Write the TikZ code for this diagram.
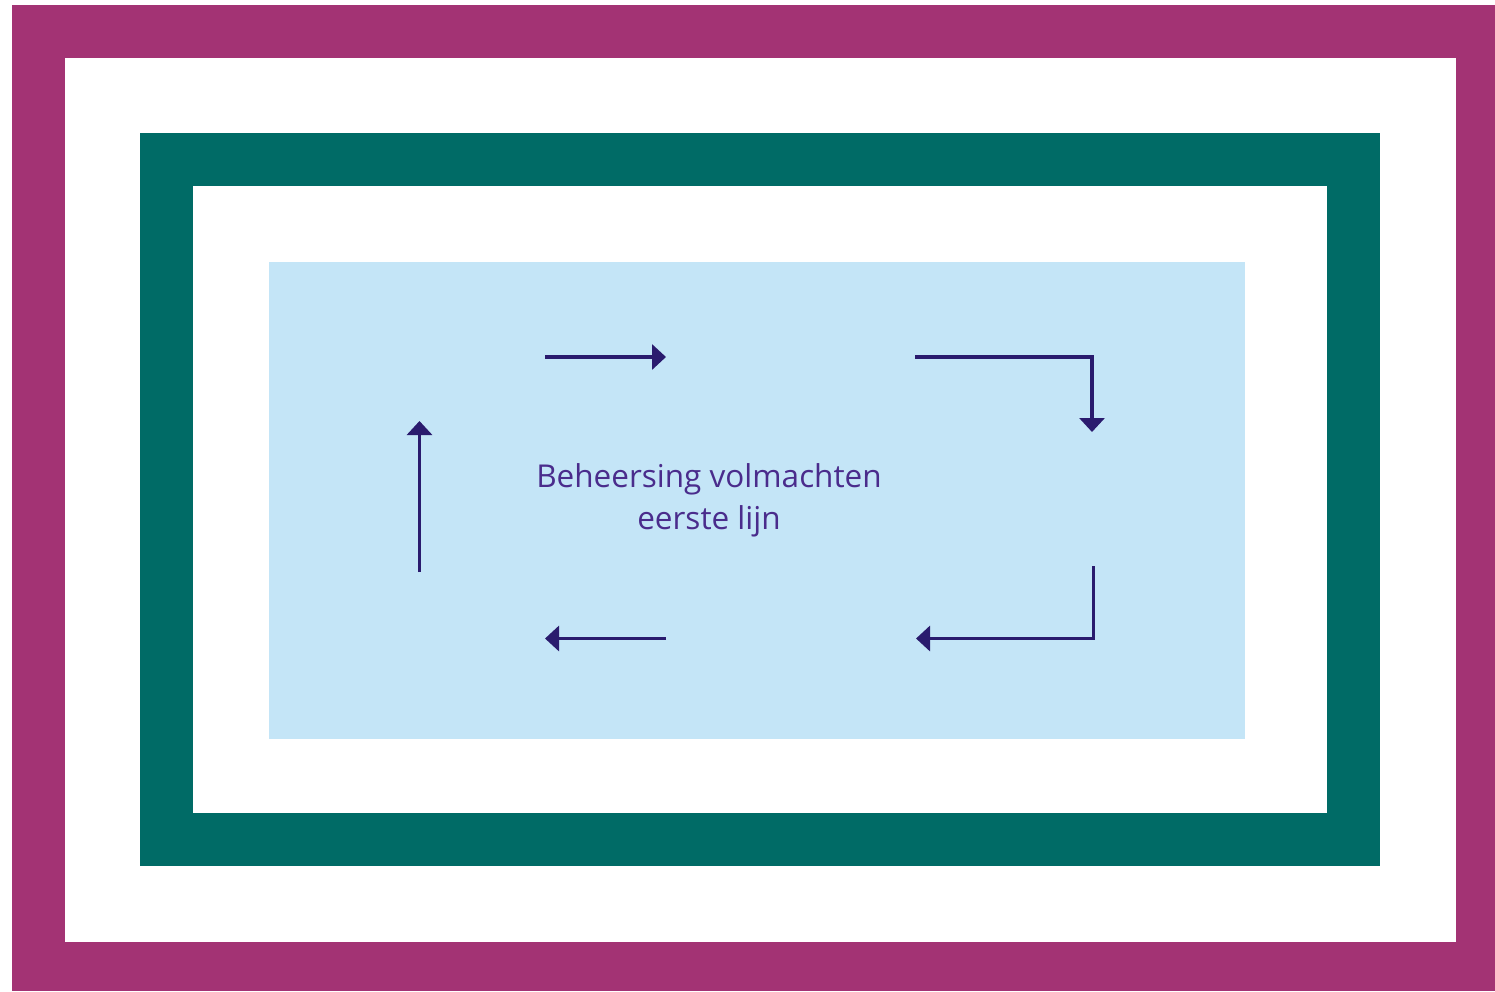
\documentclass[tikz,border=0pt]{standalone}
\usepackage{fontspec}
\setmainfont{Open Sans}
\usetikzlibrary{arrows.meta}
\definecolor{outerpurple}{HTML}{A33374}
\definecolor{midteal}{HTML}{006B66}
\definecolor{lightblue}{HTML}{C4E5F7}
\definecolor{arrownavy}{HTML}{2A1B6E}
\definecolor{textpurple}{HTML}{4A2C8C}
\tikzset{
  flowarrow/.style={draw=arrownavy, line width=3.2pt, line cap=butt,
    -{Triangle[length=14pt,width=25pt]}},
  centertext/.style={text=textpurple, font=\fontsize{31.5}{42}\selectfont, align=center, inner sep=0pt}
}
\begin{document}
\begin{tikzpicture}[x=1pt,y=-1pt]
\useasboundingbox (0,0) rectangle (1495,991);
\fill[white] (0,0) rectangle (1495,991);
% outer purple frame
\fill[outerpurple] (12,5) rectangle (1495,991);
\fill[white] (65,58) rectangle (1456,942);
% teal frame
\fill[midteal] (140,133) rectangle (1380,866);
\fill[white] (193,186) rectangle (1327,813);
% light blue panel
\fill[lightblue] (269,262) rectangle (1245,739);

% text
\node[centertext] (label) at (709,500) {Beheersing volmachten\\eerste lijn};

% arrow coordinates
\coordinate (a1s) at (545,357);
\coordinate (a1e) at (666,357);
\coordinate (a2s) at (915,357);
\coordinate (a2c) at (1092,357);
\coordinate (a2e) at (1092,432);
\coordinate (a3s) at (1093.5,566);
\coordinate (a3c) at (1093.5,638.5);
\coordinate (a3e) at (916,638.5);
\coordinate (a4s) at (666,638.5);
\coordinate (a4e) at (545,638.5);
\coordinate (a5s) at (419.5,572);
\coordinate (a5e) at (419.5,421);

\draw[flowarrow] (a1s) -- (a1e);
\draw[flowarrow] (a2s) -- (a2c) -- (a2e);
\draw[flowarrow] (a3s) -- (a3c) -- (a3e);
\draw[flowarrow] (a4s) -- (a4e);
\draw[flowarrow] (a5s) -- (a5e);
\end{tikzpicture}
\end{document}
